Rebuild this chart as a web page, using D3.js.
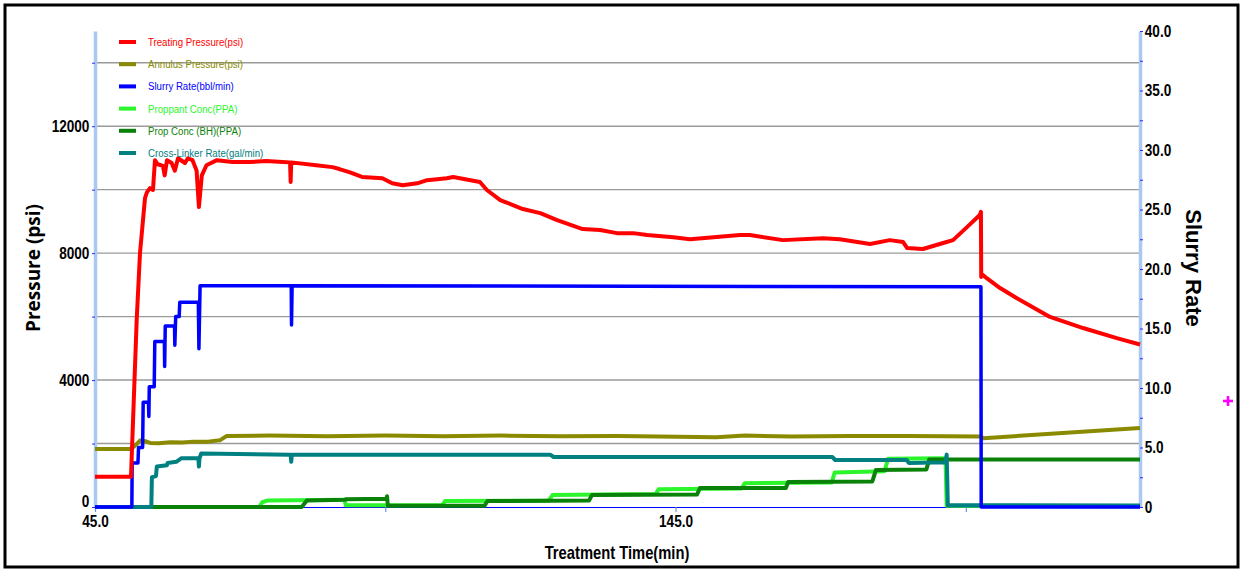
<!DOCTYPE html>
<html>
<head>
<meta charset="utf-8">
<script src="https://cdn.jsdelivr.net/npm/d3@7"></script>
<style>
  html, body { margin: 0; padding: 0; background: #fff; }
  svg { display: block; }
  .narrow { font-family: "Liberation Sans Narrow", "Arial Narrow", "Liberation Sans", Arial, sans-serif; }
</style>
</head>
<body>
<svg id="chart" width="1243" height="572"></svg>
<script>
// ---------------- DATA (time in min, pressure in psi, rate/conc on right axis) ----------------
const xTickValues = [45, 95, 145, 195];
const xTickLabels = ["45.0", "", "145.0", ""];
const pressureTicks = [0, 2000, 4000, 6000, 8000, 10000, 12000, 14000];
const pressureTickLabels = ["0", "", "4000", "", "8000", "", "12000", ""];
const rateTicks = [0, 2.5, 5, 7.5, 10, 12.5, 15, 17.5, 20, 22.5, 25, 27.5, 30, 32.5, 35, 37.5, 40];
const rateTickLabels = ["0", "", "5.0", "", "10.0", "", "15.0", "", "20.0", "", "25.0", "", "30.0", "", "35.0", "", "40.0"];

const seriesNames = ["Treating Pressure(psi)", "Annulus Pressure(psi)", "Slurry Rate(bbl/min)",
                     "Proppant Conc(PPA)", "Prop Conc (BH)(PPA)", "Cross-Linker Rate(gal/min)"];
const seriesColors = ["#ff0000", "#8a8a00", "#0000ff", "#2cf52c", "#0a820a", "#008080"];

const treatingPressure = [[45,950],[51.2,950],[52.18,5890],[52.75,8000],[53.61,9730],[53.96,9920],[54.47,10050],
  [54.99,9990],[55.33,10930],[55.8,10800],[56.7,10750],[57.0,10450],[57.4,10930],[58.2,10840],[58.75,10600],
  [59.3,10990],[60.5,10840],[61.0,10990],[61.8,10930],[62.5,10600],[62.9,9450],[63.4,10450],[64.2,10770],
  [66.0,10930],[68.7,10870],[71.6,10870],[74.5,10900],[77.3,10870],[78.6,10860],[78.7,10240],[78.8,10860],
  [83.1,10770],[85.9,10710],[87.1,10650],[88.8,10550],[91.0,10400],[94.5,10360],[96.2,10200],[98.0,10140],
  [100.5,10200],[102.2,10300],[105.6,10360],[106.7,10400],[111.3,10240],[112.5,9990],[114.8,9670],[118.7,9390],
  [121.7,9260],[124.6,9040],[129.0,8760],[132.0,8730],[134.9,8630],[137.7,8630],[140.1,8570],[144.6,8500],
  [147.5,8440],[156.1,8570],[157.8,8570],[163.5,8410],[170.4,8470],[173.3,8440],[178.5,8290],[181.9,8410],
  [184.2,8350],[184.9,8160],[187.6,8130],[191.1,8320],[192.8,8410],[195.2,8820],[197.4,9200],[197.6,9300],
  [197.65,7250],[197.8,7330],[198.6,7210],[200.9,6900],[203.8,6580],[209.5,5990],[215.2,5640],[221.0,5320],[225,5120]];

const annulusPressure = [[45,1830],[51.2,1830],[52.0,1950],[52.8,2100],[53.5,2080],[54.5,2020],[56,2010],[58,2040],
  [60,2030],[62,2060],[64.5,2060],[66.5,2100],[67.7,2240],[75,2250],[85,2230],[95,2250],[105,2230],[115,2250],
  [125,2230],[135,2240],[142,2220],[152,2200],[157,2250],[165,2220],[175,2240],[185,2240],[197.6,2220],
  [198,2170],[225,2490]];

const slurryRate = [[45,0],[51.35,0],[51.4,3.7],[52.4,3.7],[52.5,5.0],[53.2,5.0],[53.3,8.8],[54.2,8.8],[54.28,7.6],
  [54.35,10.1],[55.2,10.1],[55.3,13.9],[56.95,13.9],[57.0,11.8],[57.1,15.2],[58.7,15.2],[58.75,13.6],[58.9,16.0],
  [59.5,16.0],[59.6,17.2],[62.8,17.2],[62.9,13.3],[63.1,18.6],[78.8,18.6],[78.85,15.3],[78.95,18.6],
  [197.6,18.5],[197.65,0],[225,0]];

const proppantConc = [[45,0],[73.3,0],[73.8,0.4],[74.8,0.55],[88.0,0.6],[88.2,0.15],[104.8,0.15],[105.3,0.5],
  [123.2,0.55],[123.8,1.0],[141.6,1.1],[142.1,1.5],[156.4,1.55],[156.9,2.0],[171.9,2.05],[172.4,2.9],
  [181.0,3.0],[181.6,4.05],[191.5,4.1],[191.7,0.1],[225,0.05]];

const propConcBH = [[45,0],[80.6,0],[81.5,0.55],[88,0.6],[88.2,0.65],[95.2,0.7],[95.3,0.9],[95.45,0.1],[112.1,0.1],
  [112.6,0.5],[130.1,0.55],[130.6,1.0],[148.7,1.05],[149.2,1.6],[164.0,1.6],[164.4,2.1],[178.9,2.15],
  [179.5,3.1],[188.2,3.15],[188.7,4.0],[225,4.0]];

const crossLinkerRate = [[45,0],[54.7,0],[54.8,2.5],[55.5,2.6],[55.65,3.4],[57.4,3.5],[57.5,3.7],[59.0,3.8],
  [59.9,4.1],[62.8,4.1],[62.9,3.4],[63.0,4.1],[63.3,4.5],[78.7,4.4],[78.8,3.8],[78.9,4.4],[123.4,4.4],
  [124,4.2],[172,4.2],[172.5,3.95],[184.8,3.95],[185.2,3.7],[191.5,3.75],[191.7,4.4],[191.9,0.15],[225,0.12]];

// ---------------- DRAW ----------------
const svg = d3.select("#chart");
const x = d3.scaleLinear().domain([45, 225]).range([95, 1140]);
const yP = d3.scaleLinear().domain([0, 15000]).range([507, 31]);
const yR = d3.scaleLinear().domain([0, 40]).range([507, 31]);

// outer border
svg.append("rect").attr("x", 5).attr("y", 5).attr("width", 1233).attr("height", 562)
  .attr("fill", "none").attr("stroke", "#000").attr("stroke-width", 3);

// gridlines
svg.append("g").selectAll("line").data(pressureTicks.filter(d => d > 0)).join("line")
  .attr("x1", x(45)).attr("x2", x(225)).attr("y1", d => yP(d)).attr("y2", d => yP(d))
  .attr("stroke", "#9a9a9a").attr("stroke-width", 1.4);

// axes
const fmtLeft = d => pressureTickLabels[pressureTicks.indexOf(d)];
const fmtRight = d => rateTickLabels[rateTicks.indexOf(d)];
const fmtBottom = d => xTickLabels[xTickValues.indexOf(d)];

const gx = svg.append("g").attr("transform", `translate(0,${yP(0)})`)
  .call(d3.axisBottom(x).tickValues(xTickValues).tickFormat(fmtBottom).tickSize(5).tickSizeOuter(0).tickPadding(3));
gx.select(".domain").attr("stroke", "#0000ff").attr("stroke-width", 1.2);
gx.selectAll(".tick line").attr("stroke", "#6f8ff0").attr("stroke-width", 1.2);

const gl = svg.append("g").attr("transform", `translate(${x(45)},0)`)
  .call(d3.axisLeft(yP).tickValues(pressureTicks).tickFormat(fmtLeft).tickSize(3).tickSizeOuter(0).tickPadding(4));
gl.select(".domain").attr("stroke", "#a9c9f2").attr("stroke-width", 3.5);
gl.selectAll(".tick line").attr("stroke", "#2a2aff");
gl.selectAll(".tick").filter(d => d === 0).select("text").attr("dy", "-0.05em");

const gr = svg.append("g").attr("transform", `translate(${x(225)},0)`)
  .call(d3.axisRight(yR).tickValues(rateTicks).tickFormat(fmtRight).tickSize(3).tickSizeOuter(0).tickPadding(3));
gr.select(".domain").attr("stroke", "#a9c9f2").attr("stroke-width", 3.5);
gr.selectAll(".tick line").attr("stroke", "#2a2aff");

[gx, gl, gr].forEach(g => g.selectAll("text").attr("class", "narrow")
  .attr("font-size", 17).attr("font-weight", "bold").attr("fill", "#000")
  .attr("transform", "scale(0.8,1)"));

// lines
const lineP = d3.line().x(d => x(d[0])).y(d => yP(d[1]));
const lineR = d3.line().x(d => x(d[0])).y(d => yR(d[1]));
const plot = svg.append("g").attr("fill", "none").attr("stroke-linejoin", "round");
plot.append("path").datum(annulusPressure).attr("d", lineP).attr("stroke", seriesColors[1]).attr("stroke-width", 4);
plot.append("path").datum(proppantConc).attr("d", lineR).attr("stroke", seriesColors[3]).attr("stroke-width", 4);
plot.append("path").datum(propConcBH).attr("d", lineR).attr("stroke", seriesColors[4]).attr("stroke-width", 4);
plot.append("path").datum(crossLinkerRate).attr("d", lineR).attr("stroke", seriesColors[5]).attr("stroke-width", 4);
plot.append("path").datum(slurryRate).attr("d", lineR).attr("stroke", seriesColors[2]).attr("stroke-width", 3.5);
plot.append("path").datum(treatingPressure).attr("d", lineP).attr("stroke", seriesColors[0]).attr("stroke-width", 4);

// legend
const leg = svg.append("g");
seriesNames.forEach((name, i) => {
  const y = 42 + i * 22.2;
  leg.append("line").attr("x1", 119).attr("x2", 136).attr("y1", y).attr("y2", y)
    .attr("stroke", seriesColors[i]).attr("stroke-width", 4);
  leg.append("text").attr("class", "narrow").attr("transform", `translate(148,${y}) scale(0.84,1)`)
    .attr("dy", "0.35em").attr("font-size", 11.5).attr("fill", seriesColors[i]).text(name);
});

// axis titles
svg.append("text").attr("transform", "translate(33,268) rotate(-90)").attr("text-anchor", "middle")
  .attr("dy", "0.35em").attr("font-family", "'Open Sans', 'DejaVu Sans', sans-serif")
  .attr("font-weight", "bold").attr("font-size", 19).text("Pressure (psi)");
svg.append("text").attr("transform", "translate(1194,268) rotate(90)").attr("text-anchor", "middle")
  .attr("dy", "0.35em").attr("font-family", "'Liberation Sans', Arial, sans-serif")
  .attr("font-weight", "bold").attr("font-size", 22).text("Slurry Rate");
svg.append("text").attr("class", "narrow").attr("transform", "translate(617,553) scale(0.82,1)")
  .attr("text-anchor", "middle").attr("dy", "0.35em").attr("font-weight", "bold").attr("font-size", 18)
  .text("Treatment Time(min)");

// marker
const mk = svg.append("g").attr("stroke", "#ff00ff").attr("stroke-width", 2.6);
mk.append("line").attr("x1", 1223).attr("x2", 1233).attr("y1", 401).attr("y2", 401);
mk.append("line").attr("x1", 1228).attr("x2", 1228).attr("y1", 396).attr("y2", 406);
</script>
</body>
</html>
